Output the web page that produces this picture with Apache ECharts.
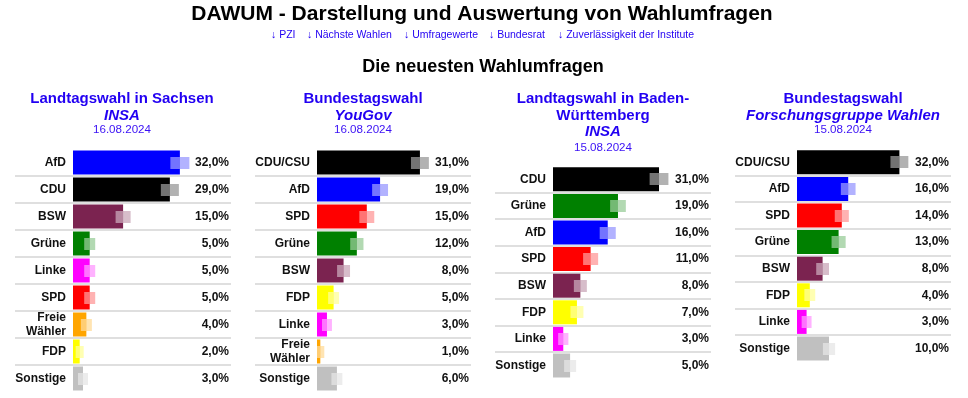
<!DOCTYPE html>
<html>
<head>
<meta charset="utf-8">
<script src="https://cdn.jsdelivr.net/npm/echarts@6/dist/echarts.min.js"></script>
<style>
  html, body { margin: 0; padding: 0; background: #fff; }
  #main { width: 968px; height: 398px; }
</style>
</head>
<body>
<div id="main"></div>
<script>
// Daten der vier Umfragen
var saxParties = ['AfD', 'CDU', 'BSW', 'Grüne', 'Linke', 'SPD', 'Freie\nWähler', 'FDP', 'Sonstige'];
var saxValues = [32, 29, 15, 5, 5, 5, 4, 2, 3];
var saxMargin = [2.85, 2.7, 2.25, 1.65, 1.65, 1.65, 1.65, 1.2, 1.5];

var ygParties = ['CDU/CSU', 'AfD', 'SPD', 'Grüne', 'BSW', 'FDP', 'Linke', 'Freie\nWähler', 'Sonstige'];
var ygValues = [31, 19, 15, 12, 8, 5, 3, 1, 6];
var ygMargin = [2.7, 2.4, 2.25, 2.0, 1.95, 1.65, 1.5, 1.2, 1.65];

var bwParties = ['CDU', 'Grüne', 'AfD', 'SPD', 'BSW', 'FDP', 'Linke', 'Sonstige'];
var bwValues = [31, 19, 16, 11, 8, 7, 3, 5];
var bwMargin = [2.75, 2.3, 2.35, 2.2, 1.9, 1.9, 1.5, 1.75];

var fgwParties = ['CDU/CSU', 'AfD', 'SPD', 'Grüne', 'BSW', 'FDP', 'Linke', 'Sonstige'];
var fgwValues = [32, 16, 14, 13, 8, 4, 3, 10];
var fgwMargin = [2.8, 2.3, 2.2, 2.2, 2.0, 1.7, 1.55, 1.9];

var partyColor = {
    'AfD': '#0000ff', 'CDU': '#000000', 'CDU/CSU': '#000000', 'BSW': '#7b2350',
    'Grüne': '#008000', 'Linke': '#ff00ff', 'SPD': '#ff0000', 'Freie\nWähler': '#ffa500',
    'FDP': '#ffff00', 'Sonstige': '#c0c0c0'
};

var FONT = '"Liberation Sans", Arial, sans-serif';
var BLUE = '#2200f2';

// Layout der Tabellen (Pixel)
var panels = [
    {parties: saxParties, values: saxValues, margin: saxMargin, left: 15, right: 231, barStart: 73, scale: 3.34, top: 149, rowH: 27, labelRight: 66},
    {parties: ygParties, values: ygValues, margin: ygMargin, left: 255, right: 471, barStart: 317, scale: 3.32, top: 149, rowH: 27, labelRight: 310},
    {parties: bwParties, values: bwValues, margin: bwMargin, left: 495, right: 711, barStart: 553, scale: 3.42, top: 166, rowH: 26.6, labelRight: 546},
    {parties: fgwParties, values: fgwValues, margin: fgwMargin, left: 735, right: 951, barStart: 797, scale: 3.2, top: 149, rowH: 26.6, labelRight: 790}
];

function fmt(v) {
    return v.toFixed(1).replace('.', ',') + '%';
}

function makeBoxRender(p) {
    return function (params, api) {
        var cat = api.value(0);
        var v = api.value(1);
        var lo = api.coord([api.value(2), cat]);
        var mid = api.coord([v, cat]);
        var hi = api.coord([api.value(3), cat]);
        var h = 12;
        var y = Math.round(lo[1] - h / 2);
        var color = partyColor[p.parties[params.dataIndex]];
        var children = [];
        var inEnd = Math.min(mid[0], hi[0]);
        if (inEnd > lo[0]) {
            children.push({type: 'rect', shape: {x: lo[0], y: y, width: inEnd - lo[0], height: h},
                style: {fill: 'rgba(255,255,255,0.45)'}});
        }
        var outStart = Math.max(lo[0], mid[0]);
        if (hi[0] > outStart) {
            children.push({type: 'rect', shape: {x: outStart, y: y, width: hi[0] - outStart, height: h},
                style: {fill: color, opacity: 0.3}});
        }
        return {type: 'group', children: children};
    };
}

var grids = [], xAxes = [], yAxes = [], series = [];
for (var i = 0; i < panels.length; i++) {
    var p = panels[i];
    grids.push({left: p.left, top: p.top, width: p.right - p.left, height: p.rowH * p.parties.length});
    xAxes.push({type: 'value', gridIndex: i, show: false,
        min: -(p.barStart - p.left) / p.scale, max: (p.right - p.barStart) / p.scale});
    yAxes.push({
        type: 'category', gridIndex: i, inverse: true, data: p.parties,
        axisLine: {show: false}, axisTick: {show: false},
        axisLabel: {inside: true, align: 'right', margin: p.labelRight - p.left,
            fontFamily: FONT, fontSize: 12, fontWeight: 'bold', color: '#111', lineHeight: 14},
        splitLine: {show: true, showMinLine: false, showMaxLine: false,
            lineStyle: {color: '#d4d4d4', width: 1.5}}
    });
    yAxes.push({
        type: 'category', gridIndex: i, inverse: true, position: 'right',
        data: p.values.map(fmt),
        axisLine: {show: false}, axisTick: {show: false}, splitLine: {show: false},
        axisLabel: {inside: true, margin: 2, fontFamily: FONT, fontSize: 12, fontWeight: 'bold', color: '#111'}
    });
    series.push({
        type: 'bar', xAxisIndex: i, yAxisIndex: i * 2, barWidth: 24, silent: true, z: 2,
        data: p.values.map(function (v, k) {
            return {value: v, itemStyle: {color: partyColor[this.parties[k]]}};
        }, p)
    });
    // Fehlerbereich als Kasten
    series.push({
        type: 'custom', xAxisIndex: i, yAxisIndex: i * 2, silent: true, z: 5,
        renderItem: makeBoxRender(p),
        encode: {x: [1, 2, 3], y: 0},
        data: p.values.map(function (v, k) {
            return [k, v, v - this.margin[k], v + this.margin[k]];
        }, p)
    });
}

// Überschriften
var headings = [
    {x: 122, ys: [99, 116, 130], lines: [['Landtagswahl in Sachsen', 'h'], ['INSA', 'i'], ['16.08.2024', 'd']]},
    {x: 363, ys: [99, 116, 130], lines: [['Bundestagswahl', 'h'], ['YouGov', 'i'], ['16.08.2024', 'd']]},
    {x: 603, ys: [99, 116, 132, 148], lines: [['Landtagswahl in Baden-', 'h'], ['Württemberg', 'h'], ['INSA', 'i'], ['15.08.2024', 'd']]},
    {x: 843, ys: [99, 116, 130], lines: [['Bundestagswahl', 'h'], ['Forschungsgruppe Wahlen', 'i'], ['15.08.2024', 'd']]}
];
var links = [['↓ PZI', 271], ['↓ Nächste Wahlen', 307], ['↓ Umfragewerte', 404], ['↓ Bundesrat', 489], ['↓ Zuverlässigkeit der Institute', 558]];

var graphics = [
    {type: 'text', style: {text: 'DAWUM - Darstellung und Auswertung von Wahlumfragen', x: 482, y: 14,
        align: 'center', verticalAlign: 'middle', font: 'bold 21px ' + FONT, fill: '#000'}},
    {type: 'text', style: {text: 'Die neuesten Wahlumfragen', x: 483, y: 67,
        align: 'center', verticalAlign: 'middle', font: 'bold 18px ' + FONT, fill: '#000'}}
];
links.forEach(function (l) {
    graphics.push({type: 'text', style: {text: l[0], x: l[1], y: 35, align: 'left', verticalAlign: 'middle',
        font: '10.5px ' + FONT, fill: BLUE}});
});
headings.forEach(function (h) {
    h.lines.forEach(function (ln, k) {
        var font = ln[1] == 'h' ? 'bold 15px ' : (ln[1] == 'i' ? 'italic bold 15px ' : '11.6px ');
        graphics.push({type: 'text', style: {text: ln[0], x: h.x, y: h.ys[k], align: 'center', verticalAlign: 'middle',
            font: font + FONT, fill: ln[1] == 'd' ? '#3a10f5' : BLUE}});
    });
});

var chart = echarts.init(document.getElementById('main'));
chart.setOption({
    animation: false,
    grid: grids,
    xAxis: xAxes,
    yAxis: yAxes,
    series: series,
    graphic: graphics
});
</script>
</body>
</html>
